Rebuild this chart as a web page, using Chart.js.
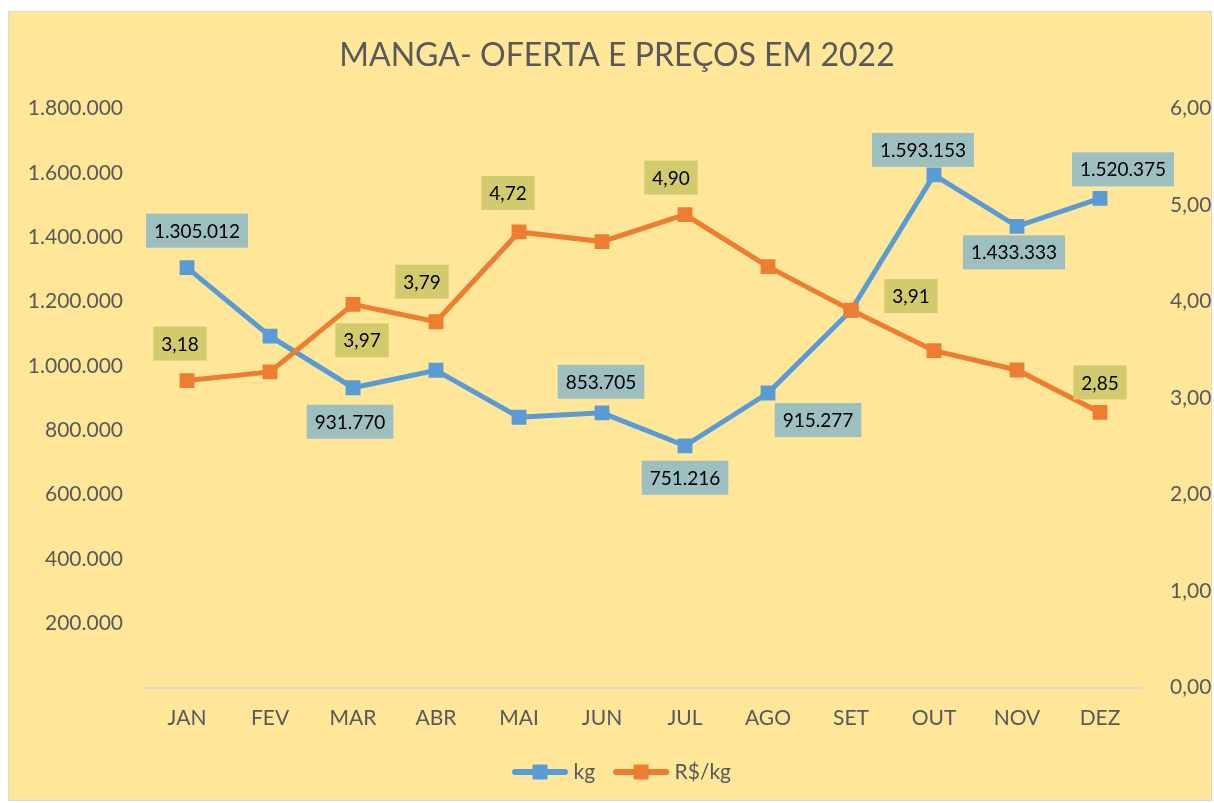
<!DOCTYPE html>
<html>
<head>
<meta charset="utf-8">
<script src="https://cdn.jsdelivr.net/npm/chart.js@4.4.0/dist/chart.umd.min.js"></script>
<style>
  html, body { margin: 0; padding: 0; background: #ffffff; }
  #wrap { position: relative; width: 1214px; height: 803px; }
</style>
</head>
<body>
<div id="wrap"><canvas id="chart" width="1214" height="803"></canvas></div>
<script>
// data
const months = ["JAN", "FEV", "MAR", "ABR", "MAI", "JUN", "JUL", "AGO", "SET", "OUT", "NOV", "DEZ"];
const kg = [1305012, 1092000, 931770, 986000, 840000, 853705, 751216, 915277, 1172000, 1593153, 1433333, 1520375];
const precos = [3.18, 3.27, 3.97, 3.79, 4.72, 4.62, 4.90, 4.36, 3.91, 3.49, 3.29, 2.85];

// which points carry a data label
const kgLabelShown = [true, false, true, false, false, true, true, true, false, true, true, true];
const precoLabelShown = [true, false, true, true, true, false, true, false, true, false, false, true];

// label box offsets from the point (px), as placed in the original
const kgLabelOffset = [[10, -37], null, [-3, 34], null, null, [-1, -31], [0, 32], [50, 27], null, [-11, -25], [-3, 26], [23, -29]];
const precoLabelOffset = [[-7, -37], null, [9, 36], [-14, -40], [-11, -39], null, [-14, -37], null, [60, -14], null, null, [0, -30]];

const BLUE = "#5B9BD5";
const ORANGE = "#ED7D31";
const GREY_TXT = "#595959";
const FONT = "Lato";

function fmtKg(v) {
    return String(Math.round(v)).replace(/\B(?=(\d{3})+(?!\d))/g, ".");
}
function fmtPreco(v) {
    return v.toFixed(2).replace(".", ",");
}

// legend icon: thick line with a square in the middle
function legendIcon(color) {
    const c = document.createElement("canvas");
    c.width = 58;
    c.height = 16;
    const g = c.getContext("2d");
    g.strokeStyle = color;
    g.lineWidth = 6;
    g.lineCap = "round";
    g.beginPath();
    g.moveTo(4, 8);
    g.lineTo(54, 8);
    g.stroke();
    g.fillStyle = color;
    g.fillRect(21.5, 0.5, 15, 15);
    return c;
}

const panelBackground = {
    id: "panelBackground",
    beforeDraw(chart) {
        const ctx = chart.ctx;
        ctx.save();
        ctx.fillStyle = "#ffffff";
        ctx.fillRect(0, 0, chart.width, chart.height);
        ctx.fillStyle = "#FFE699";
        ctx.fillRect(8, 11, chart.width - 10, chart.height - 13);
        ctx.strokeStyle = "#D9D9D9";
        ctx.lineWidth = 1;
        ctx.strokeRect(8.5, 11.5, chart.width - 11, chart.height - 14);
        ctx.restore();
    }
};

// nudge the legend a little to the right, like the original
const legendNudge = {
    id: "legendNudge",
    afterLayout(chart) {
        if (chart.legend) {
            chart.legend.left += 7;
            chart.legend.right += 7;
        }
    }
};

const boxLabels = {
    id: "boxLabels",
    afterDatasetsDraw(chart) {
        const ctx = chart.ctx;
        ctx.save();
        ctx.font = "19px " + FONT;
        ctx.textAlign = "center";
        ctx.textBaseline = "middle";
        chart.data.datasets.forEach((ds, di) => {
            const meta = chart.getDatasetMeta(di);
            meta.data.forEach((pt, i) => {
                if (!ds.labelShown[i]) return;
                const off = ds.labelOffset[i];
                const txt = ds.fmt(ds.data[i]);
                const cx = pt.x + off[0];
                const cy = pt.y + off[1];
                const w = ctx.measureText(txt).width + 16;
                const h = 34;
                ctx.fillStyle = ds.labelFill;
                ctx.fillRect(cx - w / 2, cy - h / 2, w, h);
                ctx.fillStyle = "#000000";
                ctx.fillText(txt, cx, cy + 1);
            });
        });
        ctx.restore();
    }
};

const icons = { "kg": legendIcon(BLUE), "R$/kg": legendIcon(ORANGE) };

new Chart(document.getElementById("chart"), {
    type: "line",
    data: {
        labels: months,
        datasets: [
            {
                label: "R$/kg",
                data: precos,
                yAxisID: "y1",
                borderColor: ORANGE,
                backgroundColor: ORANGE,
                borderWidth: 5,
                pointStyle: "rect",
                pointRadius: 10.5,
                pointBorderWidth: 0,
                pointBackgroundColor: ORANGE,
                tension: 0,
                labelShown: precoLabelShown,
                labelOffset: precoLabelOffset,
                labelFill: "#D2CB6E",
                fmt: fmtPreco
            },
            {
                label: "kg",
                data: kg,
                yAxisID: "y",
                borderColor: BLUE,
                backgroundColor: BLUE,
                borderWidth: 5,
                pointStyle: "rect",
                pointRadius: 10.5,
                pointBorderWidth: 0,
                pointBackgroundColor: BLUE,
                tension: 0,
                labelShown: kgLabelShown,
                labelOffset: kgLabelOffset,
                labelFill: "#9DBFC0",
                fmt: fmtKg
            }
        ]
    },
    options: {
        responsive: false,
        animation: false,
        devicePixelRatio: 1,
        layout: { padding: { left: 20, right: 0, top: 0, bottom: 10.5 } },
        plugins: {
            tooltip: { enabled: false },
            title: {
                display: true,
                text: "MANGA- OFERTA E PREÇOS EM 2022",
                color: GREY_TXT,
                font: { family: FONT, size: 32, weight: "normal" },
                padding: { top: 36, bottom: 34 }
            },
            legend: {
                display: true,
                position: "bottom",
                reverse: true,
                labels: {
                    usePointStyle: true,
                    pointStyleWidth: 46,
                    padding: 23,
                    color: GREY_TXT,
                    font: { family: FONT, size: 21 },
                    generateLabels(chart) {
                        const items = Chart.defaults.plugins.legend.labels.generateLabels(chart);
                        items.forEach((it) => { it.pointStyle = icons[it.text]; });
                        return items;
                    }
                }
            }
        },
        scales: {
            x: {
                offset: true,
                grid: { display: false, drawTicks: false },
                border: { display: true, color: "#D9D9D9", width: 2 },
                ticks: { color: GREY_TXT, font: { family: FONT, size: 21 }, padding: 18, maxRotation: 0 },
                afterFit(scale) { scale.height = 51; }
            },
            y: {
                position: "left",
                min: 0,
                max: 1800000,
                grid: { display: false, drawTicks: false },
                border: { display: false },
                ticks: {
                    stepSize: 200000,
                    color: GREY_TXT,
                    font: { family: FONT, size: 21 },
                    padding: 22.5,
                    callback: (v) => (v === 0 ? "" : fmtKg(v))
                },
                afterFit(scale) { scale.width = 125.5; }
            },
            y1: {
                position: "right",
                min: 0,
                max: 6,
                grid: { display: false, drawTicks: false },
                border: { display: false },
                ticks: {
                    stepSize: 1,
                    color: GREY_TXT,
                    font: { family: FONT, size: 21 },
                    padding: 28.5,
                    callback: (v) => fmtPreco(v)
                },
                afterFit(scale) { scale.width = 72.5; }
            }
        }
    },
    plugins: [panelBackground, legendNudge, boxLabels]
});
</script>
</body>
</html>
